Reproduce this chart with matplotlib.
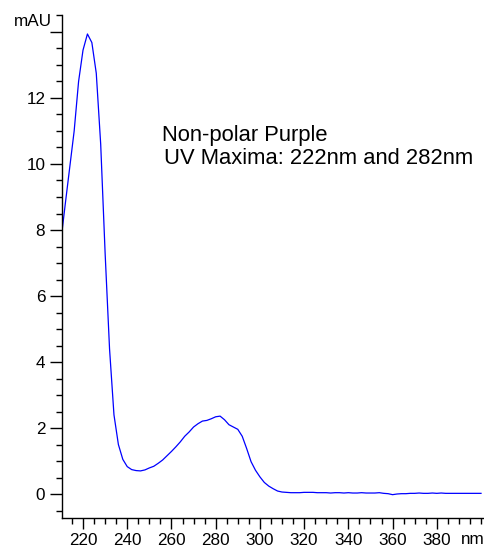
import matplotlib
matplotlib.use("Agg")
import matplotlib.pyplot as plt
from matplotlib.ticker import MultipleLocator, FixedLocator

plt.rcParams['font.family'] = ['Liberation Sans', 'DejaVu Sans']

wavelength = list(range(210, 402, 2))
absorbance = [
    7.67, 8.8, 9.9, 11.0, 12.5, 13.45, 13.94, 13.68, 12.75, 10.6,
    7.3, 4.4, 2.4, 1.5, 1.05, 0.83, 0.74, 0.71, 0.70, 0.73,
    0.79, 0.84, 0.93, 1.03, 1.16, 1.29, 1.43, 1.58, 1.75, 1.88,
    2.03, 2.13, 2.21, 2.23, 2.28, 2.34, 2.36, 2.25, 2.10, 2.03,
    1.96, 1.75, 1.38, 0.98, 0.72, 0.52, 0.35, 0.24, 0.16, 0.09,
    0.06, 0.05, 0.04, 0.04, 0.04, 0.05, 0.05, 0.05, 0.04, 0.04,
    0.04, 0.03, 0.04, 0.04, 0.03, 0.04, 0.03, 0.03, 0.04, 0.03,
    0.03, 0.03, 0.04, 0.02, 0.01, -0.02, 0.00, 0.01, 0.01, 0.02,
    0.02, 0.03, 0.02, 0.02, 0.03, 0.02, 0.03, 0.02, 0.02, 0.02,
    0.02, 0.02, 0.02, 0.02, 0.02, 0.02,
]
x_major = [220, 240, 260, 280, 300, 320, 340, 360, 380]
x_labels = ['220', '240', '260', '280', '300', '320', '340', '360', '380']
y_major = [0, 2, 4, 6, 8, 10, 12, 14]
y_labels = ['0', '2', '4', '6', '8', '10', '12', '']
title_lines = ['Non-polar Purple', 'UV Maxima: 222nm and 282nm']

W, H = 485, 548
fig = plt.figure(figsize=(W / 100, H / 100), dpi=100)
ax = fig.add_axes([62 / W, (H - 518) / H, (W - 62) / W, (518 - 15) / H])

ax.plot(wavelength, absorbance, color='#0000ff', lw=0.9)

ax.set_xlim(210.5, 401.8)
ax.set_ylim(-0.727, 14.515)

ax.xaxis.set_major_locator(FixedLocator(x_major))
ax.set_xticklabels(x_labels)
ax.xaxis.set_minor_locator(MultipleLocator(5))
ax.yaxis.set_major_locator(FixedLocator(y_major))
ax.set_yticklabels(y_labels)
ax.yaxis.set_minor_locator(MultipleLocator(0.5))

ax.tick_params(axis='both', which='major', direction='out', length=8, width=1,
               labelsize=12.3, colors='black', pad=3)
ax.tick_params(axis='both', which='minor', direction='out', length=4, width=1)
ax.tick_params(axis='y', which='major', length=9)

for s in ['top', 'right']:
    ax.spines[s].set_visible(False)
for s in ['left', 'bottom']:
    ax.spines[s].set_linewidth(1)
    ax.spines[s].set_color('black')

fig.text(52 / W, 1 - 22 / H, 'mAU', ha='right', va='center', fontsize=12.3)
fig.text(461 / W, 1 - 539 / H, 'nm', ha='left', va='center', fontsize=12.3)

fig.text(162 / W, 1 - 141 / H, title_lines[0], ha='left', va='baseline', fontsize=15.8)
fig.text(164 / W, 1 - 164 / H, title_lines[1], ha='left', va='baseline', fontsize=15.8)

fig.savefig('out.png', dpi=100)
